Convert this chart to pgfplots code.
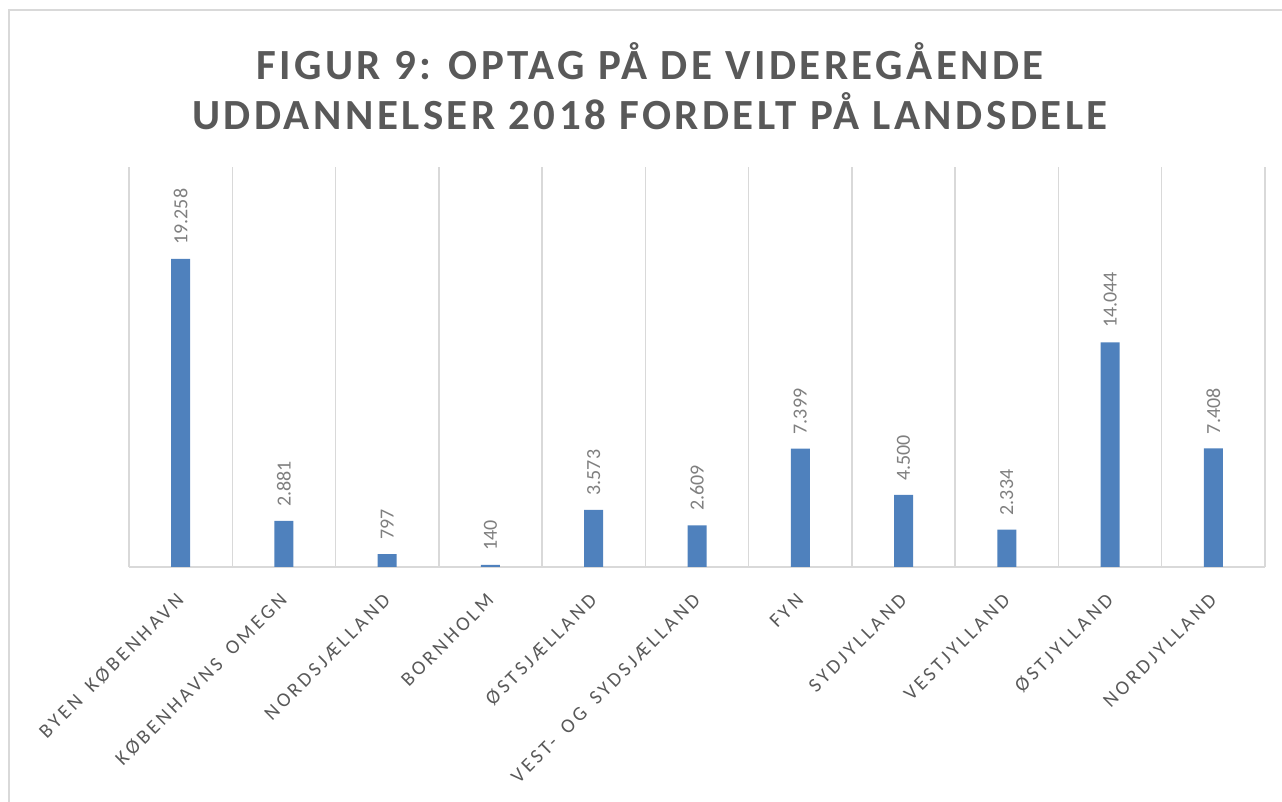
\documentclass[border=0pt]{standalone}
\usepackage{pgfplots}
\pgfplotsset{compat=1.18}
\usepackage{fontspec}
\setmainfont{Carlito}
\newfontfamily\spaced[LetterSpace=16, WordSpace=1.6]{Carlito}
\newfontfamily\titlefont[LetterSpace=8]{Carlito}
\definecolor{barblue}{HTML}{4F81BD}
\definecolor{gridgray}{HTML}{D9D9D9}
\definecolor{titlegray}{HTML}{595959}
\definecolor{labelgray}{HTML}{7F7F7F}
\begin{document}
\begin{tikzpicture}
\path[use as bounding box] (0,0) rectangle (641bp,401bp);
\draw[gridgray, line width=1bp] (4.5bp,0) -- (4.5bp,395.75bp) -- (641bp,395.75bp);
\node[text=titlegray, align=center, inner sep=0pt, font=\fontsize{21.5bp}{25bp}\selectfont\titlefont\bfseries] at (325bp,358bp)
  {FIGUR 9: OPTAG PÅ DE VIDEREGÅENDE\\UDDANNELSER 2018 FORDELT PÅ LANDSDELE};
\begin{axis}[
  at={(64.5bp,117.5bp)}, anchor=south west,
  scale only axis, width=568bp, height=200bp,
  xmin=-0.5, xmax=10.5, ymin=0, ymax=25000,
  axis x line=bottom, axis y line=none,
  x axis line style={gridgray, line width=1bp, -},
  xtick=data,
  xticklabels={BYEN KØBENHAVN, KØBENHAVNS OMEGN, NORDSJÆLLAND, BORNHOLM, ØSTSJÆLLAND, VEST- OG SYDSJÆLLAND, FYN, SYDJYLLAND, VESTJYLLAND, ØSTJYLLAND, NORDJYLLAND},
  xticklabel style={yshift=-15bp, xshift=0bp, rotate=45, anchor=east, inner sep=0pt, font=\fontsize{10bp}{12bp}\selectfont\spaced, text=titlegray},
  minor xtick={-0.5,0.5,...,10.5},
  minor x grid style={gridgray, line width=0.75bp},
  xminorgrids=true,
  major tick length=0pt, minor tick length=0pt,
  ytick=\empty,
  ybar, bar width=9.5bp,
  nodes near coords,
  nodes near coords style={rotate=90, anchor=west, xshift=7bp, yshift=0bp, text=labelgray, font=\fontsize{10bp}{12bp}\selectfont, inner sep=0pt},
  /pgf/number format/.cd, 1000 sep={.}, assume math mode=true,
]
\addplot[fill=barblue, draw=none] coordinates {
(0,19258) (1,2881) (2,797) (3,140) (4,3573) (5,2609) (6,7399) (7,4500) (8,2334) (9,14044) (10,7408)};
\end{axis}
\end{tikzpicture}
\end{document}
